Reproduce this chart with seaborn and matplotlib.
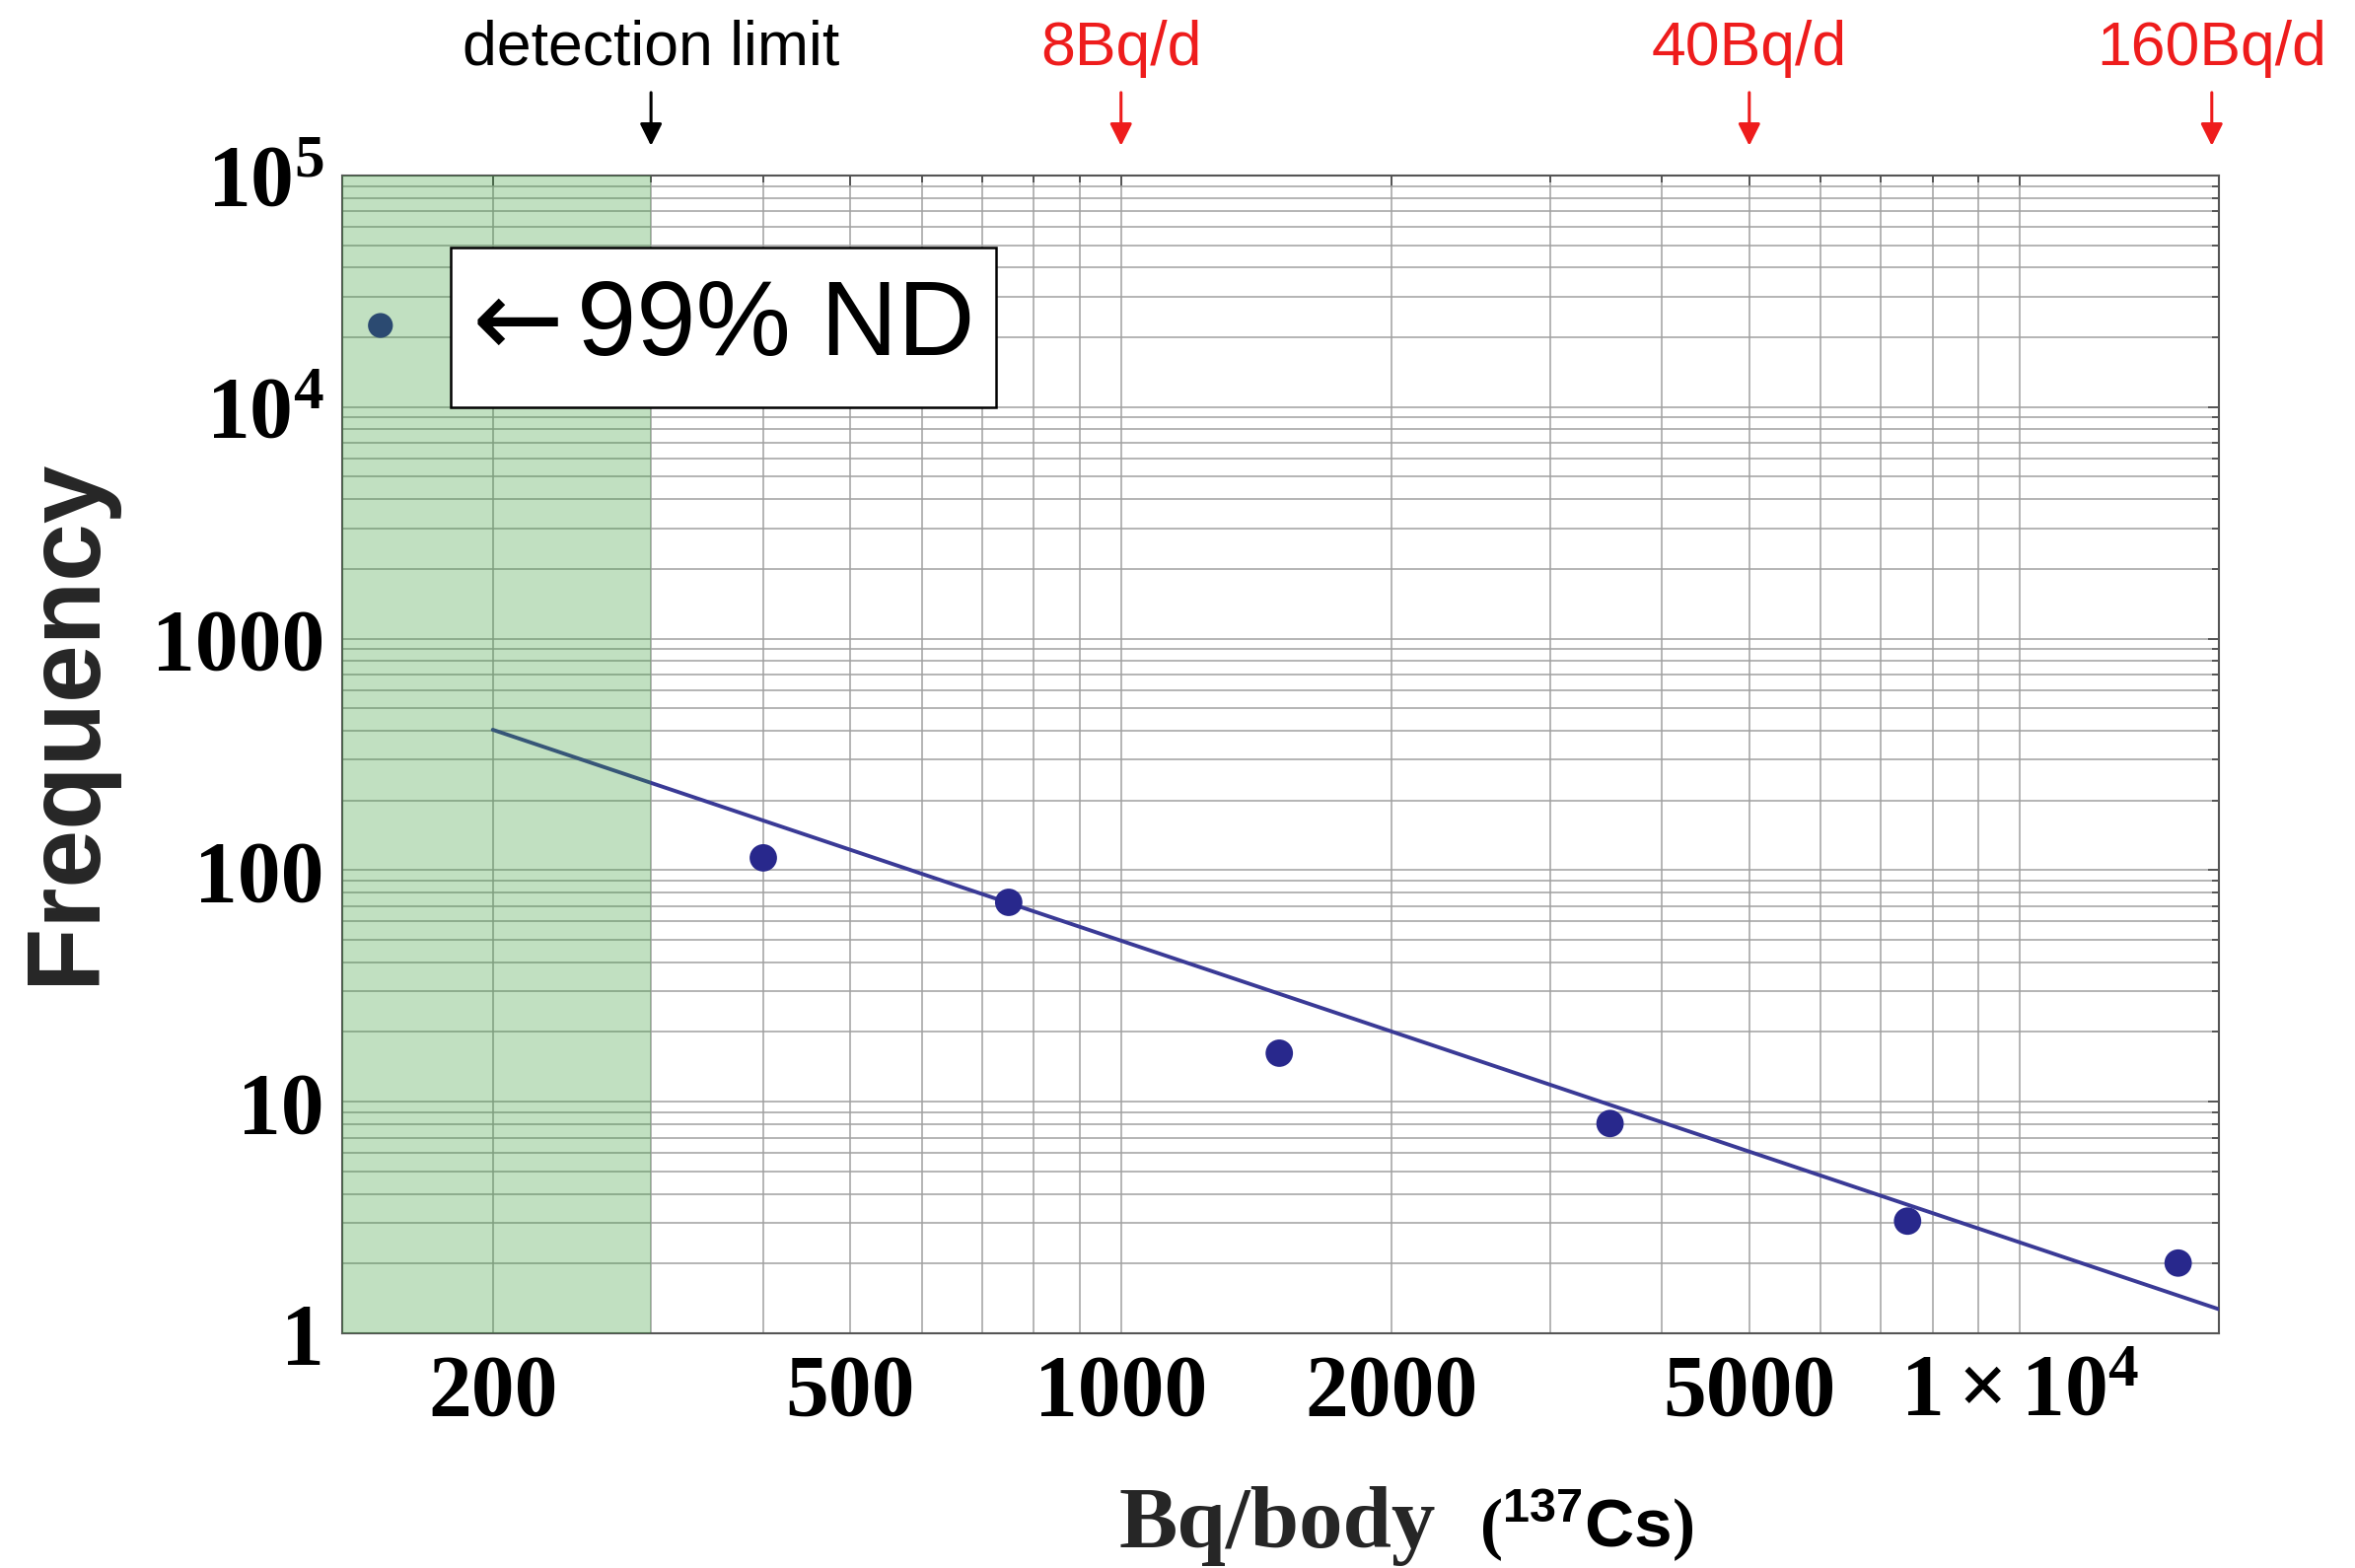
import matplotlib
matplotlib.use("Agg")
import matplotlib.pyplot as plt
import matplotlib.transforms as mtransforms
from matplotlib.patches import Rectangle
from matplotlib.ticker import FixedLocator, FixedFormatter, NullFormatter
import pandas as pd
import seaborn as sns

# Whole-body counter results: body burden bins (Bq/body, 137Cs) and counts
bq_body = [400, 750, 1500, 3500, 7500, 15000]
frequency = [113, 72.6, 16.2, 8.05, 3.05, 2.01]

# Not-detected group, shown left of the detection limit
nd_bq = [150]
nd_freq = [22500]

# Power-law fit, drawn as a straight segment on log-log axes
fit_bq = [200, 16650]
fit_freq = [404, 1.27]

# Reference marks above the frame
mark_x = [300, 1000, 5000, 16350]
mark_text = ["detection limit", "8Bq/d", "40Bq/d", "160Bq/d"]
mark_color = ["black", "#ee1c1c", "#ee1c1c", "#ee1c1c"]

detection_limit = 300
x_range = [136, 16650]
y_range = [1, 1e5]

x_major = [200, 500, 1000, 2000, 5000, 10000]
x_major_labels = ["200", "500", "1000", "2000", "5000", r"$1\times10^{4}$"]
x_minor = [300, 400, 600, 700, 800, 900, 3000, 4000, 6000, 7000, 8000, 9000]
y_major = [1, 10, 100, 1000, 1e4, 1e5]
y_major_labels = ["1", "10", "100", "1000", r"$10^{4}$", r"$10^{5}$"]
y_minor = [m * 10 ** k for k in range(5) for m in range(2, 10)]

sns.set_theme(style="white")
plt.rcParams["font.family"] = ["Liberation Sans", "DejaVu Sans"]
plt.rcParams["mathtext.fontset"] = "custom"
plt.rcParams["mathtext.rm"] = "Liberation Serif:bold"
plt.rcParams["mathtext.it"] = "Liberation Serif:bold"
plt.rcParams["mathtext.bf"] = "Liberation Serif:bold"
plt.rcParams["mathtext.sf"] = "Liberation Sans:bold"

point_color = "#28288c"
line_color = "#3a3a96"
grid_color = "#a0a0a0"

fig = plt.figure(figsize=(23.88, 15.90), dpi=100)
ax = fig.add_axes([0.1453, 0.1497, 0.7969, 0.7384])
ax.set_xscale("log")
ax.set_yscale("log")

df_pts = pd.DataFrame({"bq": bq_body, "freq": frequency})
df_nd = pd.DataFrame({"bq": nd_bq, "freq": nd_freq})
df_fit = pd.DataFrame({"bq": fit_bq, "freq": fit_freq})

sns.lineplot(data=df_fit, x="bq", y="freq", ax=ax, color=line_color,
             linewidth=2.8, zorder=3)
sns.scatterplot(data=df_pts, x="bq", y="freq", ax=ax, s=400,
                color=point_color, edgecolor="none", zorder=4)
sns.scatterplot(data=df_nd, x="bq", y="freq", ax=ax, s=330,
                color=point_color, edgecolor="none", zorder=4)

# translucent band below the detection limit, laid over grid and data
ax.axvspan(x_range[0], detection_limit, color=(0.2, 0.6, 0.2), alpha=0.3,
           lw=0, zorder=5)

ax.set_xlim(*x_range)
ax.set_ylim(*y_range)

ax.xaxis.set_major_locator(FixedLocator(x_major))
ax.xaxis.set_major_formatter(FixedFormatter(x_major_labels))
ax.xaxis.set_minor_locator(FixedLocator(x_minor))
ax.xaxis.set_minor_formatter(NullFormatter())
ax.yaxis.set_major_locator(FixedLocator(y_major))
ax.yaxis.set_major_formatter(FixedFormatter(y_major_labels))
ax.yaxis.set_minor_locator(FixedLocator(y_minor))
ax.yaxis.set_minor_formatter(NullFormatter())

ax.grid(True, which="both", color=grid_color, linewidth=1.1)
ax.set_axisbelow(True)
ax.tick_params(which="both", direction="in", top=True, right=True,
               color="#444444", width=1.2)
ax.tick_params(which="major", length=8)
ax.tick_params(which="minor", length=5)
ax.tick_params(axis="x", which="major", pad=15)
ax.tick_params(axis="y", which="major", pad=13)
for lab in ax.get_xticklabels() + ax.get_yticklabels():
    lab.set_fontfamily("Liberation Serif")
    lab.set_fontweight("bold")
    lab.set_fontsize(63)
    lab.set_color("black")
for sp in ax.spines.values():
    sp.set_color("#555555")
    sp.set_linewidth(1.5)

ax.set_xlabel("")
ax.set_ylabel("")

# note box for the not-detected point
ax.add_patch(Rectangle((0.0578, 0.7998), 0.2906, 0.138, transform=ax.transAxes,
                       facecolor="white", edgecolor="black", linewidth=1.8,
                       zorder=6))
ax.text(0.0935, 0.8700, "\u2190", transform=ax.transAxes,
        ha="center", va="center", fontsize=80, color="black", zorder=7,
        family="DejaVu Sans")
ax.text(0.3370, 0.8688, "99% ND", transform=ax.transAxes,
        ha="right", va="center", fontsize=78, color="black", zorder=7,
        family="Liberation Sans")

# arrows and labels above the frame
trans = mtransforms.blended_transform_factory(ax.transData, ax.transAxes)
for xv, txt, col in zip(mark_x, mark_text, mark_color):
    ax.annotate("", xy=(xv, 1.0256), xytext=(xv, 1.0716),
                xycoords=trans, textcoords=trans, annotation_clip=False,
                arrowprops=dict(arrowstyle="-|>", color=col, lw=2.2,
                                mutation_scale=34, shrinkA=0, shrinkB=0))
    ax.text(xv, 1.0954, txt, transform=trans, ha="center", va="baseline",
            fontsize=45, color=col, clip_on=False)

# axis titles
fig.text(68 / 2388, 1 - 731 / 1590, "Frequency", rotation=90,
         ha="center", va="center", fontsize=76, fontweight="bold",
         family=["Liberation Sans", "DejaVu Sans"])
fig.text(1135 / 2388, 0.0132, "Bq/body", ha="left", va="baseline",
         fontsize=64, fontweight="bold", family="Liberation Serif")
fig.text(1500 / 2388, 0.0132, r"$(\mathsf{^{137}Cs})$", ha="left", va="baseline",
         fontsize=50, color="black")

fig.savefig("out.png", dpi=100)
